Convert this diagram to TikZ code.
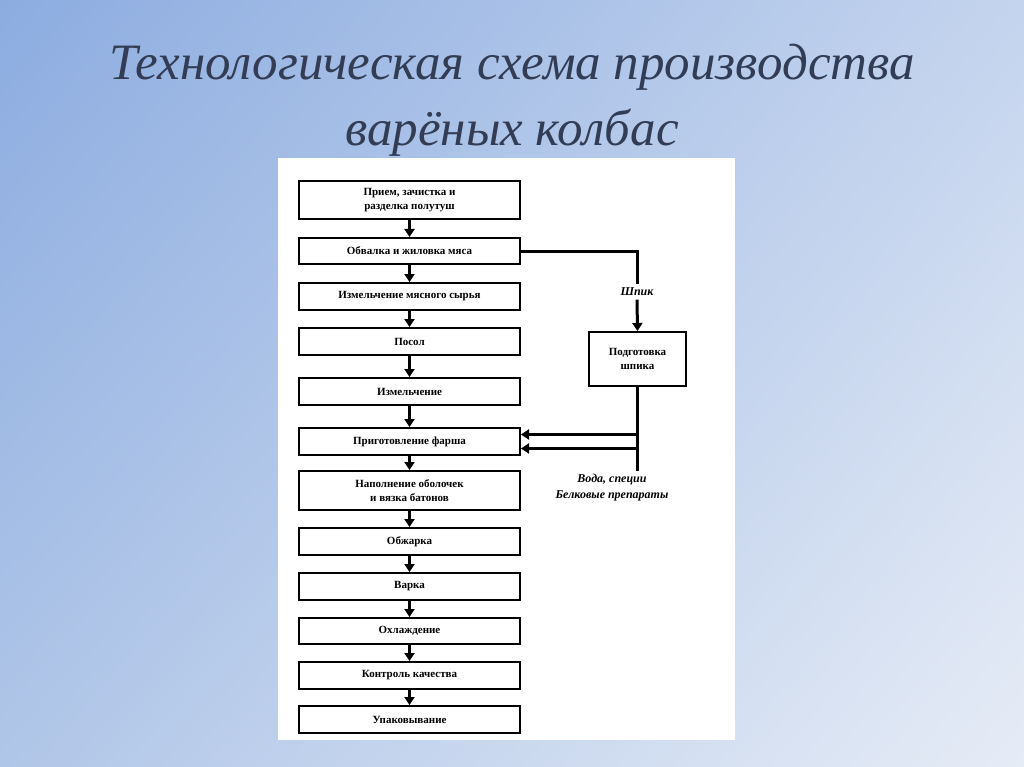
\documentclass[tikz,border=0pt]{standalone}
\usepackage{fontspec}
\setmainfont{Liberation Serif}
\usetikzlibrary{arrows.meta,shadings}
\definecolor{bgul}{RGB}{140,172,224}
\definecolor{bgur}{RGB}{196,212,238}
\definecolor{bgll}{RGB}{176,198,232}
\definecolor{bglr}{RGB}{230,236,246}
\definecolor{titlec}{RGB}{50,60,85}
\begin{document}
\begin{tikzpicture}[x=1pt,y=-1pt,
  box/.style={draw,line width=2pt,minimum width=221pt,inner sep=0pt,align=center,font=\fontsize{11}{14}\selectfont\bfseries},
  ar/.style={line width=3pt,-{Triangle[length=8pt,width=10pt]}},
  ln/.style={line width=3pt}]
\shade[upper left=bgul, upper right=bgur, lower left=bgll, lower right=bglr] (0,0) rectangle (1024,767);
\useasboundingbox (0,0) rectangle (1024,767);
\node[text=titlec, font=\fontsize{51}{66}\selectfont\itshape, align=center] (title) at (512,100) {Технологическая схема производства\\варёных колбас};
\fill[white] (278,158) rectangle (735,740);
\node[box,minimum height=38pt] (b1) at (409.5,200) {Прием, зачистка и\\разделка полутуш};
\node[box,minimum height=26pt] (b2) at (409.5,251) {Обвалка и жиловка мяса};
\node[box,minimum height=27pt] (b3) at (409.5,296.5) {Измельчение мясного сырья};
\node[box,minimum height=27pt] (b4) at (409.5,341.5) {Посол};
\node[box,minimum height=27pt] (b5) at (409.5,391.5) {Измельчение};
\node[box,minimum height=27pt] (b6) at (409.5,441.5) {Приготовление фарша};
\node[box,minimum height=39pt] (b7) at (409.5,490.5) {Наполнение оболочек\\и вязка батонов};
\node[box,minimum height=27pt] (b8) at (409.5,541.5) {Обжарка};
\node[box,minimum height=27pt] (b9) at (409.5,586.5) {Варка};
\node[box,minimum height=26pt] (b10) at (409.5,631) {Охлаждение};
\node[box,minimum height=27pt] (b11) at (409.5,675.5) {Контроль качества};
\node[box,minimum height=27pt] (b12) at (409.5,719.5) {Упаковывание};
\foreach \a/\b in {b1/b2,b2/b3,b3/b4,b4/b5,b5/b6,b6/b7,b7/b8,b8/b9,b9/b10,b10/b11,b11/b12}
  \draw[ar] (\a) -- (\b);
\node[box,minimum width=97pt,minimum height=54pt] (s) at (637.5,359) {Подготовка\\шпика};
\node[font=\fontsize{12}{14}\selectfont\bfseries\itshape] (shpik) at (637,292) {Шпик};
\draw[ln] (b2.east) -| (shpik.north);
\draw[ar] (shpik.south) -- (s.north);
\draw[ar] (s.south) |- ([yshift=-7pt]b6.east);
\node[font=\fontsize{12}{16}\selectfont\bfseries\itshape,align=center] (voda) at (612,488) {Вода, специи\\Белковые препараты};
\draw[ar] (voda.north -| s.south) |- ([yshift=7pt]b6.east);
\end{tikzpicture}
\end{document}
